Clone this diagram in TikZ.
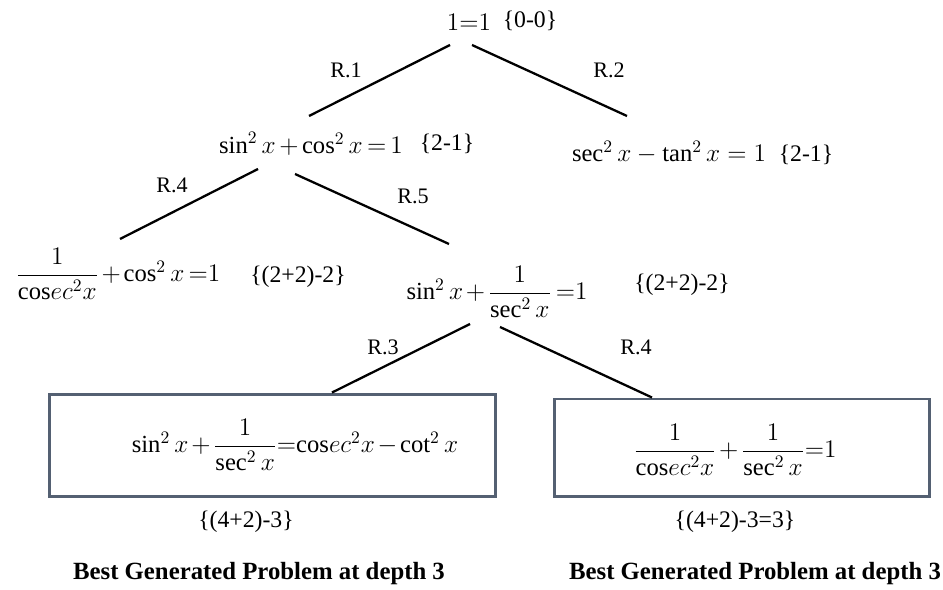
\documentclass[tikz,border=0pt]{standalone}
\usepackage{amsmath}
\usepackage{fontspec}
\setmainfont{Liberation Serif}
\usetikzlibrary{calc}
\definecolor{boxgray}{RGB}{84,96,114}

\begin{document}
\begin{tikzpicture}[x=0.02cm,y=-0.02cm,
  every node/.style={font=\fontsize{13.5}{16}\selectfont,inner sep=0pt},
  rule/.style={font=\fontsize{12.6}{15}\selectfont},
  formula/.style={font=\fontsize{14}{17}\selectfont},
  snug/.style={formula,execute at begin node={\thickmuskip=3mu\medmuskip=2.5mu}},
  tight/.style={formula,execute at begin node={\thickmuskip=2mu\medmuskip=2mu}},
  caption/.style={font=\fontsize{14.1}{17}\selectfont\bfseries},
  branch/.style={line width=1.3pt},
  probbox/.style={draw=boxgray,line width=1.7pt}]
  \useasboundingbox (0,0) rectangle (943,590);

  % depth 0
  \node[formula] (root) at (469,22) {$1{=}1$};
  \node (root-cost) at (530,21) {\{0-0\}};

  % depth 1
  \node[snug] (eqA) at (311,144) {$\sin^2 x+\cos^2 x=1$};
  \node (eqA-cost) at (447,144) {\{2-1\}};
  \node[formula] (eqB) at (669,152) {$\sec^2 x-\tan^2 x=1$};
  \node (eqB-cost) at (806,155) {\{2-1\}};
  \draw[branch] ($(root)+(-19,23)$) -- ($(eqA)+(-2,-28)$);
  \draw[branch] ($(root)+(3,23)$) -- ($(eqB)+(-42,-36)$);
  \node[rule] at (346,70) {R.1};
  \node[rule] at (609,70) {R.2};

  % depth 2
  \node[tight] (eqC) at (118,274) {$\dfrac{1}{\mathrm{cos}ec^2x}+\cos^2 x\,{=}1$};
  \node (eqC-cost) at (298,277) {\{(2+2)-2\}};
  \node[tight] (eqD) at (497,292) {$\sin^2 x+\dfrac{1}{\sec^2 x}\,{=}1$};
  \node (eqD-cost) at (682,285) {\{(2+2)-2\}};
  \draw[branch] ($(eqA)+(-53,25)$) -- ($(eqC)+(2,-35)$);
  \draw[branch] ($(eqA)+(-16,30)$) -- ($(eqD)+(-48,-48)$);
  \node[rule] at (172,185) {R.4};
  \node[rule] at (413,196) {R.5};

  % depth 3
  \node[probbox,minimum width=8.94cm,minimum height=2.06cm] (best1) at (272.5,445.5) {};
  \node[tight] (best1-eq) at (295,445) {$\sin^2 x+\dfrac{1}{\sec^2 x}{=}\mathrm{cos}ec^2x-\cot^2 x$};
  \node[probbox,minimum width=7.52cm,minimum height=1.96cm] (best2) at (742,448) {};
  \node[tight] (best2-eq) at (735,450) {$\dfrac{1}{\mathrm{cos}ec^2x}+\dfrac{1}{\sec^2 x}{=}1$};
  \draw[branch] ($(eqD)+(-27,32)$) -- ($(best1.north)+(59.5,0)$);
  \draw[branch] ($(eqD)+(3,35)$) -- ($(best2.north)+(-90,0)$);
  \node[rule] at (383,347) {R.3};
  \node[rule] at (636,347) {R.4};
  \node (best1-cost) at (246,522) {\{(4+2)-3\}};
  \node (best2-cost) at (735,522) {\{(4+2)-3=3\}};

  \node[caption] at (259,574) {Best Generated Problem at depth 3};
  \node[caption] at (755,574) {Best Generated Problem at depth 3};
\end{tikzpicture}
\end{document}
